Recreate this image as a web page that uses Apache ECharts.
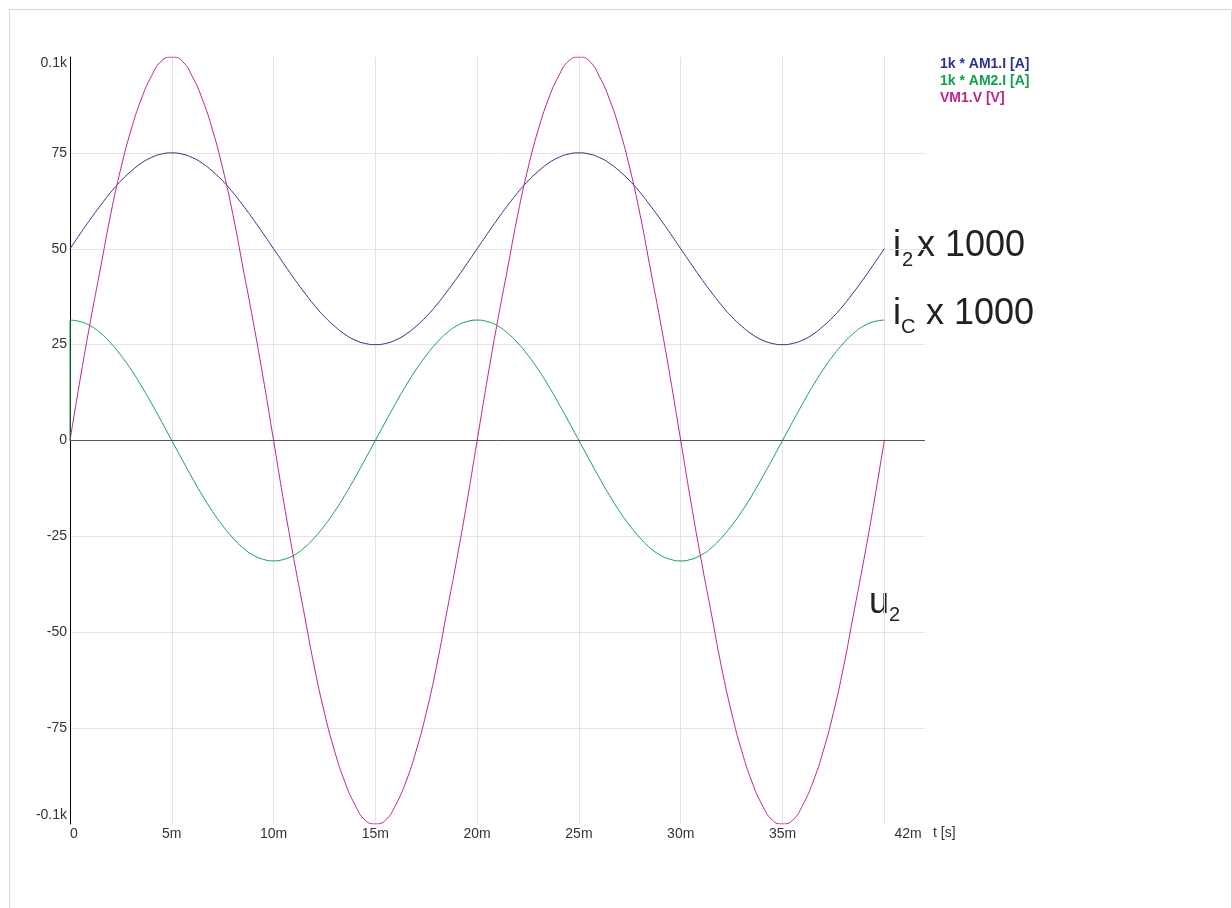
<!DOCTYPE html>
<html><head><meta charset="utf-8">
<script src="https://cdn.jsdelivr.net/npm/echarts@6/dist/echarts.min.js"></script>
<style>html,body{margin:0;padding:0;background:#fff}#c{width:1232px;height:908px}</style>
</head><body><div id="c"></div>
<script>
// time in milliseconds (0 .. 40 ms, 0.5 ms steps)
const timeMs = [0,0.5,1,1.5,2,2.5,3,3.5,4,4.5,5,5.5,6,6.5,7,7.5,8,8.5,9,9.5,
                10,10.5,11,11.5,12,12.5,13,13.5,14,14.5,15,15.5,16,16.5,17,17.5,18,18.5,19,19.5,
                20,20.5,21,21.5,22,22.5,23,23.5,24,24.5,25,25.5,26,26.5,27,27.5,28,28.5,29,29.5,
                30,30.5,31,31.5,32,32.5,33,33.5,34,34.5,35,35.5,36,36.5,37,37.5,38,38.5,39,39.5,40];
// 1k * AM1.I [A]  (i2 x 1000)
const i2 = [50,53.9,57.7,61.3,64.7,67.7,70.2,72.3,73.8,74.7,75,74.7,73.8,72.3,70.2,67.7,64.7,61.3,57.7,53.9,
            50,46.1,42.3,38.7,35.3,32.3,29.8,27.7,26.2,25.3,25,25.3,26.2,27.7,29.8,32.3,35.3,38.7,42.3,46.1,
            50,53.9,57.7,61.3,64.7,67.7,70.2,72.3,73.8,74.7,75,74.7,73.8,72.3,70.2,67.7,64.7,61.3,57.7,53.9,
            50,46.1,42.3,38.7,35.3,32.3,29.8,27.7,26.2,25.3,25,25.3,26.2,27.7,29.8,32.3,35.3,38.7,42.3,46.1,50];
// 1k * AM2.I [A]  (iC x 1000)
const ic = [31.4,31.0,29.9,28.0,25.4,22.2,18.5,14.3,9.7,4.9,0,-4.9,-9.7,-14.3,-18.5,-22.2,-25.4,-28.0,-29.9,-31.0,
            -31.4,-31.0,-29.9,-28.0,-25.4,-22.2,-18.5,-14.3,-9.7,-4.9,0,4.9,9.7,14.3,18.5,22.2,25.4,28.0,29.9,31.0,
            31.4,31.0,29.9,28.0,25.4,22.2,18.5,14.3,9.7,4.9,0,-4.9,-9.7,-14.3,-18.5,-22.2,-25.4,-28.0,-29.9,-31.0,
            -31.4,-31.0,-29.9,-28.0,-25.4,-22.2,-18.5,-14.3,-9.7,-4.9,0,4.9,9.7,14.3,18.5,22.2,25.4,28.0,29.9,31.0,31.4];
// initial step of iC at t = 0
const icStepT = [0,0];
const icStepV = [0,31.4];
// VM1.V [V]  (u2)
const u2 = [0,16,31,45,59,71,81,89,95,99,100,99,95,89,81,71,59,45,31,16,
            0,-16,-31,-45,-59,-71,-81,-89,-95,-99,-100,-99,-95,-89,-81,-71,-59,-45,-31,-16,
            0,16,31,45,59,71,81,89,95,99,100,99,95,89,81,71,59,45,31,16,
            0,-16,-31,-45,-59,-71,-81,-89,-95,-99,-100,-99,-95,-89,-81,-71,-59,-45,-31,-16,0];

const seriesNames = ['1k * AM1.I [A]','1k * AM2.I [A]','VM1.V [V]'];
const seriesColors = ['#2e3192','#12a04f','#c0228f'];
const xTicks = [0,5,10,15,20,25,30,35,40,42];
const xTickLabels = ['0','5m','10m','15m','20m','25m','30m','35m','','42m'];
const yTicks = [-100,-75,-50,-25,0,25,50,75,100];
const yTickLabels = ['-0.1k','-75','-50','-25','0','25','50','75','0.1k'];

const FONT = 'Liberation Sans, Arial, sans-serif';
const pair = (ts, vs) => ts.map((t,i)=>[t, vs[i]]);

const chart = echarts.init(document.getElementById('c'), null, {renderer:'canvas'});
const lblStyle = {fontSize:14, color:'#333', fontFamily:FONT};

function annot(x, y, text, size) {
  return {type:'text', x:x, y:y, style:{text:text, fontSize:size, fontFamily:FONT, fill:'#222', verticalAlign:'middle', align:'left'}};
}

chart.setOption({
  animation:false,
  backgroundColor:'#fff',
  grid:{left:70, top:57, right:307, bottom:84, containLabel:false},
  legend:{
    orient:'vertical', left:930, top:52, itemWidth:0, itemHeight:0, itemGap:3,
    icon:'rect', selectedMode:false,
    textStyle:{fontSize:14, fontWeight:'bold', fontFamily:FONT},
    data:seriesNames.map((n,i)=>({name:n, textStyle:{color:seriesColors[i]}}))
  },
  xAxis:{
    type:'value', min:0, max:42, interval:5,
    axisLine:{show:false}, axisTick:{show:false},
    splitLine:{show:true, showMinLine:false, showMaxLine:false, lineStyle:{color:'#e4e4e4', width:1}},
    axisLabel:{
      interval:0, margin:3, showMaxLabel:true, showMinLabel:true, hideOverlap:false,
      fontSize:14, color:'#333', fontFamily:FONT,
      formatter:function(v){
        const i = xTicks.indexOf(Math.round(v));
        const lab = i>=0 ? xTickLabels[i] : '';
        if (v===0) return '{z|'+lab+'}';
        if (Math.round(v)===42) return '{r|'+lab+'}';
        return lab;
      },
      rich:{
        z:Object.assign({padding:[0,0,0,8]}, lblStyle),
        r:Object.assign({padding:[0,34,0,0]}, lblStyle)
      }
    }
  },
  yAxis:{
    type:'value', min:-100, max:100, interval:25,
    axisLine:{show:true, onZero:false, lineStyle:{color:'#000', width:1}},
    axisTick:{show:false},
    splitLine:{show:true, showMinLine:false, showMaxLine:false, lineStyle:{color:'#e4e4e4', width:1}},
    axisLabel:{
      margin:3, fontSize:14, color:'#333', fontFamily:FONT,
      showMinLabel:true, showMaxLabel:true,
      formatter:function(v){
        const i = yTicks.indexOf(Math.round(v));
        const lab = i>=0 ? yTickLabels[i] : '';
        if (Math.round(v)===100) return '{t|'+lab+'}';
        if (Math.round(v)===-100) return '{b|'+lab+'}';
        return lab;
      },
      rich:{
        t:Object.assign({padding:[12,0,0,0]}, lblStyle),
        b:Object.assign({padding:[0,0,17,0]}, lblStyle)
      }
    }
  },
  graphic:[
    {type:'rect', shape:{x:9.5, y:9.5, width:1222, height:940}, style:{fill:'none', stroke:'#d6d6d6', lineWidth:1}, silent:true, z:-10},
    {type:'text', x:933, y:833, style:{text:'t [s]', fontSize:14, fontFamily:FONT, fill:'#333', verticalAlign:'middle', align:'left'}},
    annot(893, 246, 'i', 36), annot(902, 260, '2', 20), annot(917, 246, 'x 1000', 36),
    annot(893, 314, 'i', 36), annot(901, 327, 'C', 20), annot(926, 314, 'x 1000', 36),
    annot(869, 603, 'u', 36), annot(889, 615, '2', 20)
  ],
  series:[
    {name:seriesNames[0], type:'line', data:pair(timeMs, i2), smooth:true, showSymbol:false, symbol:'none',
     lineStyle:{color:seriesColors[0], width:1}, itemStyle:{color:seriesColors[0]}, z:3,
     markLine:{silent:true, symbol:'none', label:{show:false}, lineStyle:{color:'#555', width:1, type:'solid'}, data:[{yAxis:0}], animation:false}},
    {name:seriesNames[1], type:'line', data:pair(timeMs, ic), smooth:true, showSymbol:false, symbol:'none',
     lineStyle:{color:seriesColors[1], width:1}, itemStyle:{color:seriesColors[1]}, z:3},
    {name:seriesNames[1], type:'line', data:pair(icStepT, icStepV), showSymbol:false, symbol:'none',
     lineStyle:{color:seriesColors[1], width:1}, itemStyle:{color:seriesColors[1]}, z:3},
    {name:seriesNames[2], type:'line', data:pair(timeMs, u2), smooth:true, showSymbol:false, symbol:'none',
     lineStyle:{color:seriesColors[2], width:1}, itemStyle:{color:seriesColors[2]}, z:4}
  ]
});
</script>
</body></html>
